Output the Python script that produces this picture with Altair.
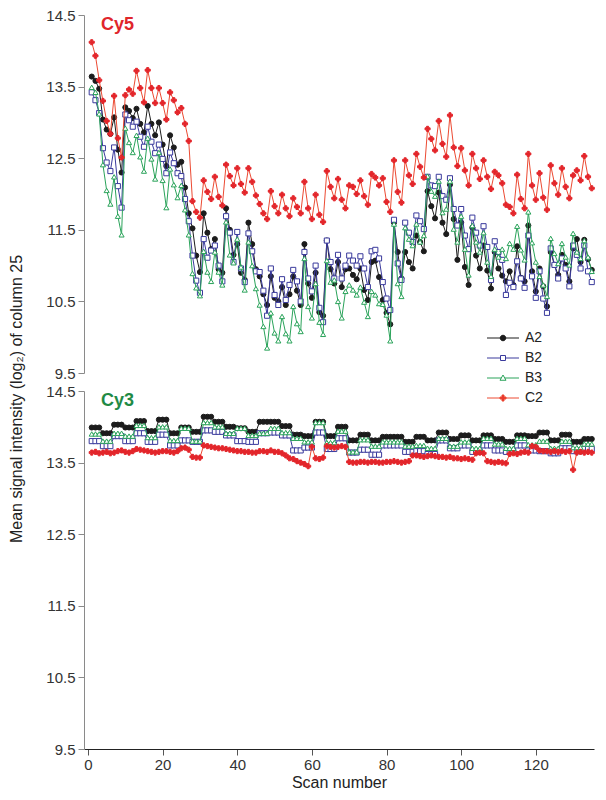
import altair as alt
import pandas as pd

FONT = "Liberation Sans"

scan = list(range(1, 136))
series_names = ["A2", "B2", "B3", "C2"]
line_colors = ["#1c1c1c", "#3a3a9c", "#2aa35a", "#ec4a32"]
marker_colors = ["#1c1c1c", "#3a3a9c", "#2aa35a", "#e3262b"]
fill_colors = ["#1c1c1c", "#ffffff", "#ffffff", "#e3262b"]
shapes = ["circle", "square", "triangle-up", "cross"]
# legend glyphs: short line with the marker in the middle
legend_glyphs = [
    "M-3.2,0H3.2M0.55,0A0.55,0.55,0,1,1,-0.55,0A0.55,0.55,0,1,1,0.55,0Z",
    "M-3.2,0H-0.5M0.5,0H3.2M-0.5,-0.5H0.5V0.5H-0.5Z",
    "M-3.2,0H-0.34M0.34,0H3.2M0,-0.6L0.6,0.45L-0.6,0.45Z",
    "M-3.2,0H3.2M-0.2,-0.6H0.2V-0.2H0.6V0.2H0.2V0.6H-0.2V0.2H-0.6V-0.2H-0.2Z",
]

# ---- Cy5 panel ----
cy5_A2 = [13.64, 13.58, 13.47, 13.04, 12.90, 12.84, 13.07, 12.62, 12.30, 13.21,
          13.16, 13.06, 13.19, 12.98, 12.86, 13.23, 12.98, 12.82, 13.00, 12.69,
          12.39, 12.82, 12.65, 12.41, 12.45, 12.09, 11.73, 11.52, 11.14, 10.91,
          11.73, 11.46, 11.23, 11.37,
          10.95, 10.90, 11.80, 11.50, 11.15, 11.30, 10.90, 10.80, 11.60, 11.30,
          10.95, 10.85, 10.60, 10.45, 10.85, 10.55, 10.50, 10.70, 10.45, 10.60,
          10.85, 10.65, 10.45, 11.30, 10.75, 10.55, 10.90, 10.35, 10.30, 11.35,
          10.95, 10.75, 11.05, 10.70, 10.95,
          10.96, 10.87, 10.81, 10.96, 10.66, 10.52, 11.05, 11.07, 10.84, 10.52,
          10.34, 10.18, 11.60, 11.19, 10.82, 11.19, 11.05, 10.96, 11.42, 11.33,
          11.20, 12.04, 11.83, 11.66, 12.02, 11.60, 11.44, 12.13, 11.65, 11.08,
          11.60, 10.98, 10.73, 11.53, 11.14, 10.96, 11.28,
          10.93, 10.68, 11.19, 10.96, 10.86, 10.78, 10.92, 10.73, 11.27, 10.83,
          10.78, 11.56, 10.92, 10.64, 10.96, 10.71, 10.43, 11.19, 11.01, 10.87,
          11.15, 11.01, 10.78, 11.24, 11.37, 11.05, 11.36, 11.09, 10.94]
cy5_B2 = [13.42, 13.31, 13.13, 12.64, 12.44, 12.32, 12.65, 12.11, 11.81, 13.11,
          13.03, 12.94, 13.01, 12.80, 12.66, 12.94, 12.73, 12.57, 12.69, 12.49,
          12.29, 12.58, 12.43, 12.29, 12.25, 11.93, 11.62, 11.14, 10.79, 10.62,
          11.37, 11.11, 11.21, 11.28,
          11.00, 10.78, 11.69, 11.46, 11.05, 11.47, 10.96, 10.77, 11.45, 11.20,
          10.92, 10.91, 10.65, 10.30, 10.96, 10.59, 10.45, 10.81, 10.52, 10.73,
          10.94, 10.78, 10.50, 11.19, 10.82, 10.64, 11.00, 10.41, 10.21, 11.35,
          11.05, 10.82, 11.15, 10.82, 11.00,
          11.14, 11.07, 11.00, 11.13, 10.96, 10.70, 11.20, 11.22, 11.10, 10.77,
          10.54, 10.38, 11.64, 11.03, 10.80, 11.60, 11.46, 11.33, 11.70, 11.62,
          11.51, 12.24, 12.12, 12.11, 12.24, 11.97, 11.92, 12.22, 11.79, 11.56,
          11.79, 11.42, 11.23, 11.67, 11.46, 11.28, 11.55,
          11.26, 10.80, 11.34, 11.19, 11.08, 10.59, 10.76, 10.70, 11.06, 10.82,
          10.69, 11.42, 10.85, 10.55, 10.92, 10.54, 10.34, 11.24, 11.01, 10.82,
          11.10, 10.96, 10.71, 11.28, 11.15, 10.96, 11.28, 10.92, 10.77]
cy5_B3 = [13.49, 13.42, 13.12, 12.41, 12.05, 11.86, 12.24, 11.69, 11.43, 12.92,
          12.72, 12.58, 12.82, 12.52, 12.32, 12.78, 12.49, 12.21, 12.58, 12.19,
          11.81, 12.35, 12.13, 11.95, 12.12, 11.78, 11.43, 10.89, 10.69, 10.58,
          11.20, 10.91, 10.78, 11.19,
          10.91, 10.73, 11.61, 11.15, 11.04, 11.37, 10.98, 10.66, 11.33, 11.00,
          10.68, 10.45, 10.15, 9.85, 10.34, 10.06, 9.95, 10.29, 10.05, 9.95,
          10.43, 10.19, 10.08, 11.10, 10.43, 10.27, 10.75, 10.21, 10.04, 11.07,
          10.77, 10.80, 10.50, 10.27, 10.64,
          10.73, 10.66, 10.59, 10.70, 10.49, 10.29, 10.64, 10.59, 10.47, 10.46,
          10.31, 9.95, 11.58, 10.75, 10.57, 11.53, 11.37, 11.28, 11.58, 11.33,
          11.42, 12.25, 12.04, 11.97, 12.18, 11.74, 11.79, 12.18, 11.51, 11.33,
          11.69, 11.23, 10.87, 11.56, 11.33, 11.19, 11.46,
          11.05, 10.85, 11.23, 11.12, 11.23, 11.10, 11.31, 11.23, 11.55, 11.22,
          11.08, 11.75, 11.32, 11.05, 10.85, 10.73, 10.57, 11.38, 11.17, 11.03,
          11.31, 11.12, 11.01, 11.45, 11.19, 11.10, 11.35, 11.12, 10.92]
cy5_C2 = [14.12, 13.93, 13.59, 13.30, 13.02, 12.84, 13.37, 12.78, 12.51, 13.38,
          13.46, 13.40, 13.72, 13.48, 13.28, 13.73, 13.48, 13.27, 13.48, 13.27,
          13.04, 13.42, 13.31, 13.14, 13.20, 12.98, 12.74, 11.90, 11.75, 11.67,
          12.19, 12.03, 11.93, 12.24,
          11.96, 11.84, 12.41, 12.25, 12.12, 12.36, 12.14, 12.02, 12.36, 12.17,
          11.98, 11.86, 11.73, 11.65, 12.04, 11.83, 11.73,
          11.99, 11.80, 11.69, 11.94, 11.82, 11.73, 12.17, 11.80, 11.65, 11.99,
          11.71, 11.61, 12.32, 12.10, 11.94, 12.21, 11.92, 11.80, 12.12, 12.10,
          12.00, 12.19, 11.97, 11.85, 12.28, 12.23, 12.12, 12.22, 11.89, 11.75,
          12.47, 12.03, 11.88, 12.47, 12.26, 12.14, 12.56, 12.38, 12.23, 12.91,
          12.77, 12.61, 13.02, 12.70, 12.52, 13.10, 12.65, 12.39, 12.64, 12.33,
          12.12, 12.56, 12.36, 12.21,
          12.47, 12.24, 12.07, 12.31, 12.26, 12.15, 11.85, 11.82, 11.73, 12.27,
          11.93, 11.80, 12.56, 12.12, 11.92, 12.29, 11.95, 11.78, 12.40, 12.15,
          11.99, 12.36, 12.10, 11.94, 12.26, 12.33, 12.19, 12.53, 12.24, 12.08]

# ---- Cy3 panel ----
cy3_A2 = [13.99, 13.99, 13.99, 13.91, 13.91, 13.91, 14.03, 14.03, 14.03, 13.99, 13.99, 13.99, 14.08, 14.08, 14.08,
          13.94, 13.94, 13.94, 14.10, 14.10, 14.10, 13.91, 13.91, 13.91, 13.99, 13.99, 13.99, 13.93, 13.93, 13.93,
          14.14, 14.14, 14.14, 14.07, 14.07, 14.07, 14.00, 14.00, 14.00, 13.98, 13.98, 13.98, 13.93, 13.93, 13.93,
          14.07, 14.07, 14.07, 14.07, 14.07, 14.07, 14.01, 14.01, 14.01, 13.89, 13.89, 13.89, 13.87, 13.87, 13.87,
          14.07, 14.07, 14.07, 13.87, 13.87, 13.87, 14.00, 14.00, 14.00, 13.81, 13.81, 13.81, 13.89, 13.89, 13.89,
          13.81, 13.81, 13.81, 13.86, 13.86, 13.86, 13.86, 13.86, 13.86, 13.79, 13.79, 13.79, 13.86, 13.86, 13.86,
          13.81, 13.81, 13.81, 13.92, 13.92, 13.92, 13.83, 13.83, 13.83, 13.88, 13.88, 13.88, 13.81, 13.81, 13.81,
          13.88, 13.88, 13.88, 13.83, 13.83, 13.83, 13.79, 13.79, 13.79, 13.88, 13.88, 13.88, 13.87, 13.87, 13.87,
          13.92, 13.92, 13.92, 13.81, 13.81, 13.81, 13.89, 13.89, 13.89, 13.79, 13.79, 13.79, 13.83, 13.83, 13.83]
cy3_B2 = [13.80, 13.80, 13.80, 13.73, 13.73, 13.73, 13.87, 13.87, 13.87, 13.80, 13.80, 13.80, 13.91, 13.91, 13.91,
          13.79, 13.79, 13.79, 13.89, 13.89, 13.89, 13.74, 13.74, 13.74, 13.81, 13.81, 13.81, 13.79, 13.79, 13.79,
          13.95, 13.95, 13.95, 13.93, 13.93, 13.93, 13.88, 13.88, 13.88, 13.80, 13.80, 13.80, 13.79, 13.79, 13.79,
          13.91, 13.91, 13.91, 13.92, 13.92, 13.92, 13.88, 13.88, 13.88, 13.67, 13.67, 13.67, 13.71, 13.71, 13.71,
          13.92, 13.92, 13.92, 13.69, 13.69, 13.69, 13.84, 13.84, 13.84, 13.64, 13.64, 13.64, 13.68, 13.68, 13.68,
          13.61, 13.61, 13.61, 13.74, 13.74, 13.74, 13.74, 13.74, 13.74, 13.65, 13.65, 13.65, 13.66, 13.66, 13.66,
          13.62, 13.62, 13.62, 13.81, 13.81, 13.81, 13.70, 13.70, 13.70, 13.74, 13.74, 13.74, 13.65, 13.65, 13.65,
          13.74, 13.74, 13.74, 13.67, 13.67, 13.67, 13.65, 13.65, 13.65, 13.74, 13.74, 13.74, 13.67, 13.67, 13.67,
          13.66, 13.66, 13.66, 13.63, 13.63, 13.63, 13.70, 13.70, 13.70, 13.66, 13.66, 13.66, 13.69, 13.69, 13.69]
cy3_B3 = [13.90, 13.90, 13.90, 13.80, 13.80, 13.80, 13.91, 13.91, 13.91, 13.87, 13.87, 13.87, 14.02, 14.02, 14.02,
          13.85, 13.85, 13.85, 14.00, 14.00, 14.00, 13.81, 13.81, 13.81, 13.98, 13.98, 13.98, 13.80, 13.80, 13.80,
          14.06, 14.06, 14.06, 14.00, 14.00, 14.00, 13.91, 13.91, 13.91, 13.98, 13.98, 13.98, 13.88, 13.88, 13.88,
          13.91, 13.91, 13.91, 13.98, 13.98, 13.98, 13.92, 13.92, 13.92, 13.84, 13.84, 13.84, 13.79, 13.79, 13.79,
          14.06, 14.06, 14.06, 13.78, 13.78, 13.78, 13.94, 13.94, 13.94, 13.65, 13.65, 13.65, 13.82, 13.82, 13.82,
          13.73, 13.73, 13.73, 13.79, 13.79, 13.79, 13.79, 13.79, 13.79, 13.73, 13.73, 13.73, 13.74, 13.74, 13.74,
          13.70, 13.70, 13.70, 13.84, 13.84, 13.84, 13.73, 13.73, 13.73, 13.79, 13.79, 13.79, 13.70, 13.70, 13.70,
          13.84, 13.84, 13.84, 13.76, 13.76, 13.76, 13.70, 13.70, 13.70, 13.84, 13.84, 13.84, 13.75, 13.75, 13.75,
          13.80, 13.80, 13.80, 13.70, 13.70, 13.70, 13.80, 13.80, 13.80, 13.71, 13.71, 13.71, 13.76, 13.76, 13.76]
cy3_C2 = [13.64, 13.65, 13.63, 13.64, 13.65, 13.63, 13.64, 13.66, 13.67, 13.65, 13.64, 13.66,
          13.69, 13.68, 13.67,
          13.66, 13.65, 13.64, 13.65, 13.66, 13.66, 13.65, 13.64, 13.66,
          13.70, 13.71, 13.68,
          13.58, 13.57, 13.57,
          13.74, 13.73, 13.72,
          13.71, 13.70, 13.70, 13.69, 13.68, 13.67, 13.66,
          13.66, 13.65, 13.65, 13.64, 13.64, 13.66, 13.66, 13.65, 13.67, 13.65,
          13.65, 13.63, 13.60, 13.56,
          13.55, 13.52, 13.50, 13.48, 13.45,
          13.72,
          13.56, 13.55, 13.57,
          13.73, 13.72, 13.71, 13.72, 13.73, 13.72,
          13.51, 13.50, 13.50, 13.51, 13.51, 13.50, 13.51, 13.51, 13.50, 13.50, 13.51, 13.51, 13.52, 13.51, 13.50, 13.51, 13.52,
          13.60, 13.60, 13.59, 13.58, 13.59, 13.60, 13.59,
          13.58, 13.58, 13.57, 13.58,
          13.56, 13.56, 13.55, 13.56, 13.55, 13.54,
          13.63, 13.64, 13.63,
          13.52, 13.51, 13.50, 13.51, 13.50, 13.49,
          13.62, 13.63, 13.62,
          13.64, 13.65, 13.64,
          13.73, 13.72,
          13.67, 13.66, 13.66, 13.65, 13.66, 13.65, 13.66, 13.65, 13.66,
          13.40,
          13.64, 13.65, 13.64, 13.65, 13.64]

y_ticks = [9.5, 10.5, 11.5, 12.5, 13.5, 14.5]
x_ticks = [0, 20, 40, 60, 80, 100, 120]


def long_frame(columns):
    rows = []
    for name, vals in zip(series_names, columns):
        for s, v in zip(scan, vals):
            rows.append({"scan": s, "value": v, "series": name})
    return pd.DataFrame(rows)


cy5 = long_frame([cy5_A2, cy5_B2, cy5_B3, cy5_C2])
cy3 = long_frame([cy3_A2, cy3_B2, cy3_B3, cy3_C2])


def panel(df, label, label_color, bottom):
    x_scale = alt.Scale(domain=[-1.07, 135.6], nice=False, zero=False)
    y_scale = alt.Scale(domain=[9.5, 14.5], nice=False, zero=False)
    y_axis = alt.Axis(values=y_ticks, format=".1f", title=None, grid=False,
                      domainColor="#8a8a8a", tickColor="#8a8a8a", tickSize=6,
                      labelFontSize=15, labelColor="#333333", labelPadding=3)
    if bottom:
        x_enc = alt.X("scan:Q", scale=x_scale,
                      axis=alt.Axis(values=x_ticks, title="Scan number", grid=False,
                                    domainColor="#222222", tickColor="#555555", tickSize=6,
                                    labelFontSize=15, labelColor="#333333",
                                    titleFontSize=16, titleFontWeight="normal",
                                    titleColor="#222222", titlePadding=2))
    else:
        x_enc = alt.X("scan:Q", scale=x_scale, axis=None)
    y_enc = alt.Y("value:Q", scale=y_scale, axis=y_axis)

    layers = []
    for name, lc, mc, fc, sh in zip(series_names, line_colors, marker_colors, fill_colors, shapes):
        sub = alt.Chart(df).transform_filter(alt.datum.series == name)
        layers.append(sub.mark_line(strokeWidth=1, stroke=lc).encode(x=x_enc, y=y_enc))
        layers.append(sub.mark_point(shape=sh, filled=True, fill=fc, stroke=mc,
                                     strokeWidth=1, size=26, opacity=1)
                      .encode(x=x_enc, y=y_enc))

    if not bottom:
        def lg():
            return alt.Legend(title=None, orient="none", legendX=412, legendY=316,
                              labelFontSize=14, labelFont=FONT, labelColor="#222222",
                              symbolSize=100, symbolStrokeWidth=1, rowPadding=6,
                              labelOffset=15, symbolOpacity=1)
        legend_layer = alt.Chart(df).transform_filter(alt.datum.scan < 0).mark_point(
            filled=True, strokeWidth=1).encode(
            x=x_enc, y=y_enc,
            shape=alt.Shape("series:N", scale=alt.Scale(domain=series_names, range=legend_glyphs), legend=lg()),
            fill=alt.Fill("series:N", scale=alt.Scale(domain=series_names, range=fill_colors), legend=lg()),
            stroke=alt.Stroke("series:N", scale=alt.Scale(domain=series_names, range=line_colors), legend=lg()),
        )
        layers.append(legend_layer)

    return alt.layer(*layers).properties(
        width=510, height=358,
        title=alt.TitleParams(text=label, anchor="start", orient="top", frame="group",
                              offset=-26, dx=17, fontSize=18, fontWeight="bold",
                              color=label_color, font=FONT),
    )


top = panel(cy5, "Cy5", "#e0262b", False)
bottom = panel(cy3, "Cy3", "#1f8a45", True)

chart = alt.vconcat(top, bottom, spacing=18, bounds="flush").properties(
    padding=0,
    title=alt.TitleParams(text="Mean signal intensity (log\u2082) of column 25",
                          orient="left", anchor="middle", fontSize=16,
                          fontWeight="normal", color="#222222", font=FONT, offset=21),
).configure_view(strokeWidth=0).configure_axis(
    labelFont=FONT, titleFont=FONT
).configure_legend(labelFont=FONT)

chart.save("out.html", embed_options={"renderer": "svg", "actions": False})
